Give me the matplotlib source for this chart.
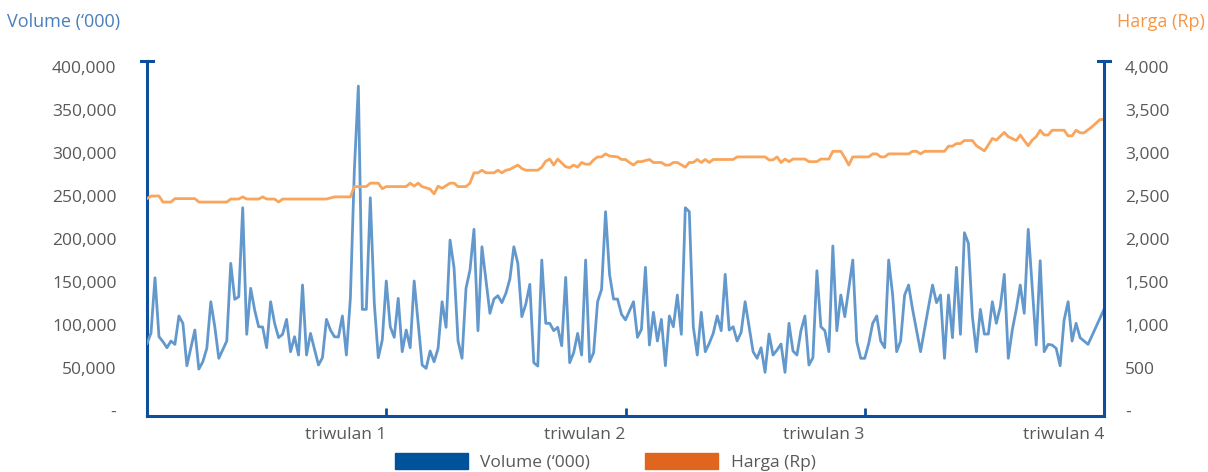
# Volume dan harga saham harian per triwulan
import matplotlib
matplotlib.use('Agg')
import matplotlib.pyplot as plt
from matplotlib.patches import Patch
from matplotlib.ticker import FuncFormatter

plt.rcParams['font.family'] = ['Open Sans', 'DejaVu Sans']

# hari bursa (0-240) dan volume ('000)
vol_days = [0, 1, 2, 3, 4, 5, 6, 7, 8, 9,
            10, 12, 13, 14, 15, 16, 17, 18, 20, 21,
            22, 23, 24, 25, 26, 27, 28, 29, 30, 31,
            32, 33, 34, 35, 36, 37, 38, 39, 40, 41,
            43, 44, 45, 46, 47, 48, 49, 50, 51, 52,
            53, 54, 55, 56, 57, 58, 59, 60, 61, 62,
            63, 64, 65, 66, 67, 69, 70, 71, 72, 73,
            74, 75, 76, 77, 78, 79, 80, 81, 82, 83,
            84, 86, 87, 88, 89, 90, 91, 92, 93, 94,
            95, 96, 97, 98, 99, 100, 101, 102, 103, 104,
            105, 106, 107, 108, 109, 110, 111, 112, 113, 114,
            115, 116, 117, 118, 119, 120, 122, 123, 124, 125,
            126, 127, 128, 129, 130, 131, 132, 133, 134, 135,
            136, 137, 138, 139, 140, 141, 142, 143, 144, 145,
            146, 147, 148, 149, 150, 152, 153, 154, 155, 156,
            157, 158, 159, 160, 161, 162, 163, 164, 165, 166,
            167, 168, 169, 170, 171, 172, 173, 174, 175, 177,
            178, 179, 180, 181, 182, 183, 184, 185, 186, 187,
            188, 189, 190, 191, 192, 194, 196, 197, 198, 199,
            200, 201, 202, 203, 204, 205, 206, 207, 208, 209,
            210, 211, 212, 213, 214, 215, 216, 217, 218, 219,
            220, 221, 222, 223, 224, 225, 226, 227, 228, 229,
            230, 231, 232, 233, 234, 236, 238, 240]
volume = [78700, 90700, 155000, 86400, 80600, 73600, 81400, 77500, 110500, 102000,
          52700, 94200, 48800, 57300, 72900, 127100, 98000, 61300, 81400, 171700,
          129900, 132900, 236400, 89200, 142700, 117400, 98000, 97700, 73600, 127100,
          102000, 85300, 89200, 106600, 69000, 86400, 65100, 146500, 65100, 90300,
          53500, 62000, 106600, 94200, 86400, 86000, 110500, 65100, 131000, 280200,
          377900, 118200, 118200, 248000, 125200, 62000, 82600, 151200, 98000, 85700,
          131000, 69000, 94200, 73600, 151200, 53500, 49600, 69800, 57300, 72900,
          127100, 97300, 198800, 166600, 81400, 61300, 142700, 164000, 211300, 93400,
          191000, 113600, 130200, 134100, 126000, 136900, 153500, 191000, 171700, 109700,
          124400, 147300, 56200, 52300, 175600, 102000, 102000, 93400, 97300, 75900,
          155400, 56200, 67800, 90300, 65100, 175600, 57300, 67800, 127100, 141500,
          231800, 158900, 130200, 130200, 112400, 106000, 127100, 85700, 95000, 167100,
          76700, 114800, 81400, 106600, 52700, 110500, 98000, 134900, 89200, 236400,
          231800, 98000, 65100, 114800, 69000, 78700, 90300, 110500, 93400, 158900,
          94200, 98000, 81400, 91500, 127100, 69000, 61300, 73600, 45000, 89500,
          65100, 70900, 77900, 45000, 102000, 69800, 65100, 93400, 110500, 53500,
          62000, 163100, 98000, 93400, 69000, 191900, 93400, 134900, 109700, 175600,
          80600, 61300, 61300, 78700, 102000, 110500, 81400, 73600, 175600, 134900,
          69000, 81400, 134900, 146500, 118200, 69000, 121300, 146500, 126000, 134900,
          61300, 134900, 85300, 167100, 89200, 207300, 195000, 109700, 69000, 118200,
          89500, 89500, 127100, 102000, 121300, 158900, 61300, 94200, 118200, 146500,
          113600, 211300, 144500, 76700, 174800, 69000, 77500, 76700, 72900, 52700,
          105800, 127100, 81400, 102000, 85300, 77500, 98000, 118200]

# hari bursa dan harga (Rp)
price_days = [0, 1, 3, 4, 6, 7, 12, 13, 20, 21,
              23, 24, 25, 28, 29, 30, 32, 33, 34, 45,
              47, 51, 52, 55, 56, 58, 59, 60, 65, 66,
              67, 68, 69, 71, 72, 73, 74, 76, 77, 78,
              80, 81, 82, 83, 84, 85, 87, 88, 89, 90,
              91, 93, 94, 95, 98, 99, 100, 101, 102, 103,
              105, 106, 107, 108, 109, 110, 111, 112, 113, 114,
              115, 116, 118, 119, 120, 121, 122, 123, 124, 126,
              127, 129, 130, 131, 132, 133, 135, 136, 137, 138,
              139, 140, 141, 142, 147, 148, 155, 156, 157, 158,
              159, 160, 161, 162, 165, 166, 168, 169, 171, 172,
              174, 175, 176, 177, 181, 182, 183, 184, 185, 186,
              191, 192, 193, 194, 195, 200, 201, 202, 203, 204,
              205, 207, 208, 210, 211, 212, 213, 215, 216, 218,
              219, 220, 221, 222, 223, 224, 225, 226, 227, 230,
              231, 232, 233, 234, 235, 237, 239, 240]
price = [2470, 2500, 2500, 2430, 2430, 2470, 2470, 2430, 2430, 2465,
         2465, 2490, 2465, 2465, 2490, 2465, 2465, 2430, 2465, 2465,
         2490, 2490, 2610, 2610, 2650, 2650, 2585, 2610, 2610, 2650,
         2615, 2650, 2610, 2580, 2525, 2615, 2590, 2650, 2650, 2610,
         2610, 2650, 2770, 2770, 2800, 2770, 2770, 2800, 2770, 2800,
         2810, 2860, 2820, 2800, 2800, 2835, 2905, 2930, 2860, 2930,
         2840, 2830, 2860, 2835, 2890, 2870, 2870, 2920, 2955, 2955,
         2990, 2965, 2955, 2925, 2925, 2890, 2860, 2900, 2900, 2925,
         2890, 2890, 2860, 2860, 2890, 2890, 2835, 2890, 2890, 2925,
         2890, 2925, 2890, 2925, 2925, 2955, 2955, 2920, 2920, 2955,
         2890, 2930, 2900, 2930, 2930, 2900, 2900, 2930, 2930, 3020,
         3020, 2945, 2860, 2955, 2955, 2990, 2990, 2955, 2955, 2990,
         2990, 3020, 3020, 2990, 3020, 3020, 3080, 3080, 3110, 3110,
         3145, 3145, 3085, 3025, 3095, 3170, 3150, 3240, 3190, 3145,
         3210, 3145, 3085, 3150, 3190, 3265, 3210, 3210, 3265, 3265,
         3200, 3200, 3265, 3235, 3235, 3305, 3390, 3390]

quarter_pos = [60, 120, 180, 240]
quarter_labels = ['triwulan 1', 'triwulan 2', 'triwulan 3', 'triwulan 4']

axis_blue = '#0d4f9c'
grey = '#595959'

fig = plt.figure(figsize=(12.08, 4.72), dpi=100)
ax = fig.add_axes([0.1217, 0.1186, 0.7922, 0.7521])
ax2 = ax.twinx()

ax.plot(vol_days, volume, color='#6398cd', lw=2.0, solid_joinstyle='round', zorder=3)
ax2.plot(price_days, price, color='#f9a55c', lw=2.0, solid_joinstyle='round')

ax.set_xlim(0, 240)
ax.set_ylim(-5814, 406977)
ax2.set_ylim(-58.1, 4069.8)
ax.set_yticks(range(0, 400001, 50000))
ax2.set_yticks(range(0, 4001, 500))
ax.yaxis.set_major_formatter(FuncFormatter(lambda v, p: '-' if v == 0 else f'{v:,.0f}'))
ax2.yaxis.set_major_formatter(FuncFormatter(lambda v, p: '-' if v == 0 else f'{v:,.0f}'))

for a in (ax, ax2):
    for s in a.spines.values():
        s.set_visible(False)
    a.tick_params(axis='y', length=0, labelsize=12.5, labelcolor=grey)
ax.spines['left'].set_visible(True)
ax.spines['bottom'].set_visible(True)
ax2.spines['right'].set_visible(True)
for s in (ax.spines['left'], ax.spines['bottom'], ax2.spines['right']):
    s.set_color(axis_blue)
    s.set_linewidth(2.2)
ax.tick_params(axis='y', pad=22)
ax2.tick_params(axis='y', pad=15)

# tick triwulan
ax.set_xticks(quarter_pos)
ax.set_xticklabels(quarter_labels, ha='right')
ax.tick_params(axis='x', direction='in', length=6, width=2, color=axis_blue,
               labelsize=12.5, labelcolor=grey, pad=8)

# topi kecil di ujung atas sumbu
ax.plot([-0.006, 0.006], [1, 1], transform=ax.transAxes, color=axis_blue, lw=2.2, clip_on=False)
ax.plot([0.994, 1.006], [1, 1], transform=ax.transAxes, color=axis_blue, lw=2.2, clip_on=False)

fig.text(0.006, 0.953, 'Volume (\u2018000)', color='#4a7ebb', fontsize=13, va='center')
fig.text(0.997, 0.953, 'Harga (Rp)', color='#f79646', fontsize=13, va='center', ha='right')

handles = [Patch(color='#00529b'), Patch(color='#e0661f')]
fig.legend(handles, ['Volume (\u2018000)', 'Harga (Rp)'], loc='center', bbox_to_anchor=(0.501, 0.021),
           ncol=2, frameon=False, fontsize=12.5, handlelength=4.2, handleheight=1.0,
           handletextpad=0.7, columnspacing=3.2, labelcolor=grey)

fig.savefig('out.png', dpi=100)
